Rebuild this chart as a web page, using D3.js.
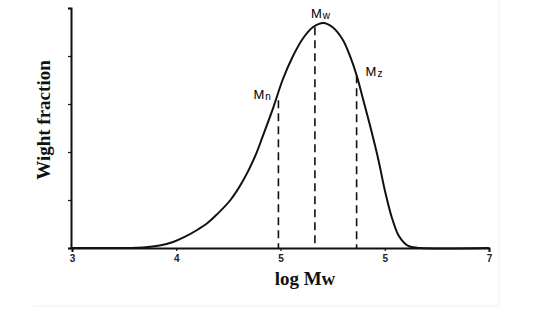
<!DOCTYPE html>
<html>
<head>
<meta charset="utf-8">
<script src="https://cdn.jsdelivr.net/npm/d3@7"></script>
<style>
  html, body { margin: 0; padding: 0; background: #fff; }
  svg { display: block; }
  .tick text { font-family: "Liberation Sans", Arial, sans-serif; font-weight: bold; font-size: 10px; fill: #222; }
  .title { font-family: "Liberation Serif", "Times New Roman", serif; font-weight: bold; font-size: 19px; fill: #111; }
  .mark { font-family: "Liberation Sans", Arial, sans-serif; font-size: 13px; fill: #000; }
</style>
</head>
<body>
<svg id="chart" width="549" height="309"></svg>
<script>
'use strict';

// distribution curve
const logM = [3.0, 3.55, 3.68, 3.84, 3.97, 4.08, 4.20, 4.30, 4.39, 4.52, 4.64, 4.76, 4.83,
  4.93, 5.02, 5.12, 5.22, 5.31, 5.41, 5.50, 5.60, 5.67, 5.73, 5.78, 5.86, 5.94, 6.00,
  6.07, 6.13, 6.19, 6.24, 6.34, 7.0];
const weight = [0, 0, 0.01, 0.05, 0.125, 0.23, 0.375, 0.52, 0.7, 1.0, 1.4, 1.93, 2.33,
  2.92, 3.5, 4.0, 4.38, 4.6, 4.69, 4.6, 4.33, 3.98, 3.6, 3.2, 2.54, 1.83, 1.21,
  0.62, 0.27, 0.1, 0.03, 0, 0];

// averages (dashed markers)
const markNames = ['n', 'w', 'z'];
const markX = [4.98, 5.33, 5.73];
const markY = [3.08, 4.6, 3.6];

const xTicks = [3, 4, 5, 6, 7];
const xTickLabels = ['3', '4', '5', '5', '7'];
const yTicks = [0, 1, 2, 3, 4, 5];

const svg = d3.select('#chart');

const x = d3.scaleLinear().domain([3, 7]).range([72, 489]);
const y = d3.scaleLinear().domain([0, 5]).range([248, 8]);

// faint frame edges of the original scan
svg.append('line')
  .attr('x1', 33).attr('x2', 499).attr('y1', 306).attr('y2', 306)
  .attr('stroke', '#eeeeee').attr('stroke-width', 1);
svg.append('line')
  .attr('x1', 499).attr('x2', 499).attr('y1', 0).attr('y2', 306)
  .attr('stroke', '#f2f2f2').attr('stroke-width', 1);

// axes
const xAxis = svg.append('g')
  .attr('transform', 'translate(0,' + y(0) + ')')
  .call(d3.axisBottom(x)
    .tickValues(xTicks)
    .tickFormat((d, i) => xTickLabels[i])
    .tickSize(3)
    .tickSizeOuter(4)
    .tickPadding(4));
xAxis.select('.domain').attr('stroke', '#111').attr('stroke-width', 2);
xAxis.selectAll('.tick line').attr('stroke', '#111').attr('stroke-width', 1.2);

const yAxis = svg.append('g')
  .attr('transform', 'translate(' + (x(3) - 1) + ',0)')
  .call(d3.axisLeft(y)
    .tickValues(yTicks)
    .tickFormat('')
    .tickSize(3)
    .tickSizeOuter(3));
yAxis.select('.domain').attr('stroke', '#111').attr('stroke-width', 2);
yAxis.selectAll('.tick line').attr('stroke', '#111').attr('stroke-width', 1.2);

// dashed markers
svg.append('g')
  .selectAll('line')
  .data(markX)
  .enter().append('line')
  .attr('x1', d => x(d))
  .attr('x2', d => x(d))
  .attr('y1', (d, i) => y(markY[i]))
  .attr('y2', y(0))
  .attr('stroke', '#111')
  .attr('stroke-width', 1.6)
  .attr('stroke-dasharray', '8,5');

// curve
const line = d3.line()
  .x((d, i) => x(logM[i]))
  .y(d => y(d))
  .curve(d3.curveCatmullRom.alpha(0.5));

svg.append('path')
  .datum(weight)
  .attr('d', line)
  .attr('fill', 'none')
  .attr('stroke', '#111')
  .attr('stroke-width', 2);

// marker labels
const labelDx = [-25, -4, 9];
const labelDy = [-1, -9, 1];
const labels = svg.append('g')
  .selectAll('text')
  .data(markNames)
  .enter().append('text')
  .attr('class', 'mark')
  .attr('x', (d, i) => x(markX[i]) + labelDx[i])
  .attr('y', (d, i) => i === 1 ? y(5) + 10 : y(markY[i]) + labelDy[i]);
labels.append('tspan').text('M');
labels.append('tspan')
  .attr('dx', 1)
  .attr('dy', 1)
  .style('font-size', '10px')
  .text(d => d);

// axis titles
svg.append('text')
  .attr('class', 'title')
  .attr('text-anchor', 'middle')
  .attr('x', 305)
  .attr('y', 285)
  .text('log Mw');

svg.append('text')
  .attr('class', 'title')
  .attr('text-anchor', 'middle')
  .attr('transform', 'translate(50,120) rotate(-90)')
  .text('Wight fraction');
</script>
</body>
</html>
